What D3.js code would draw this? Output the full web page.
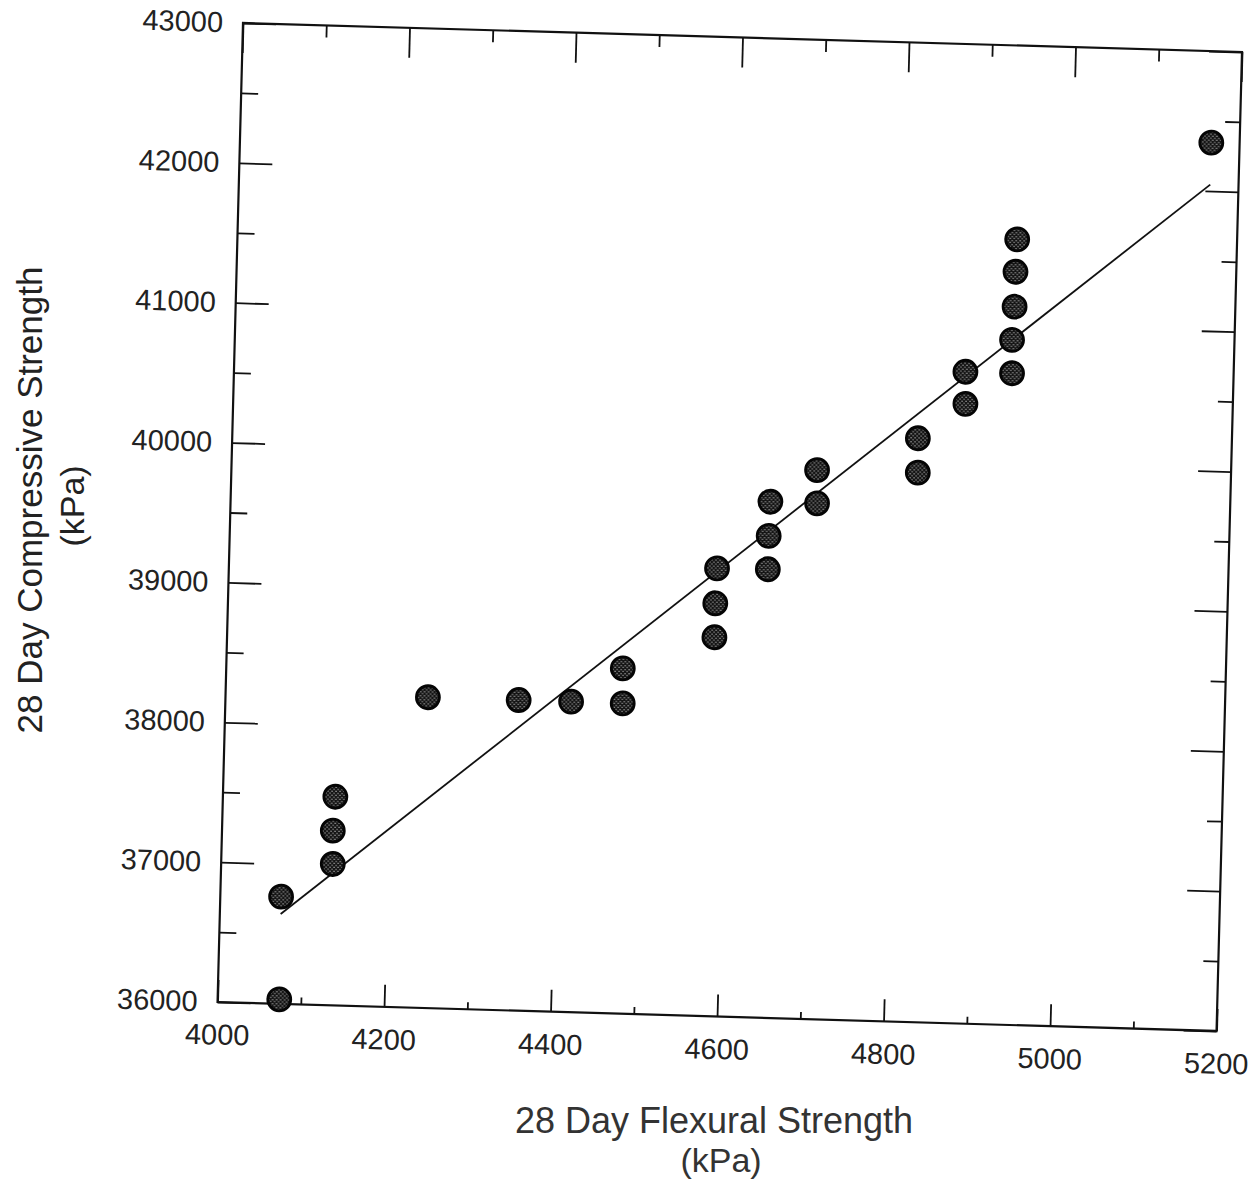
<!DOCTYPE html>
<html>
<head>
<meta charset="utf-8">
<script src="https://cdn.jsdelivr.net/npm/d3@7"></script>
<style>
  body { margin: 0; background: #fff; }
  svg { display: block; font-family: "Liberation Sans", Arial, sans-serif; }
  .tick text { fill: #222; }
</style>
</head>
<body>
<svg id="chart" width="1259" height="1181"></svg>
<script>
// 28 day flexural strength (kPa)
var flexural = [4073, 4074, 4135, 4133, 4134, 4243, 4352, 4415, 4476, 4477,
  4586, 4585, 4585, 4648, 4647, 4647, 4703, 4704, 4823, 4824,
  4878, 4879, 4936, 4935, 4935, 4933, 4934, 5166];
// 28 day compressive strength (kPa)
var compressive = [36766, 36032, 37491, 37248, 37010, 38221, 38220, 38219, 38468, 38218,
  39202, 38952, 38709, 39689, 39444, 39206, 39925, 39687, 40173, 39927,
  40658, 40428, 41615, 41383, 41133, 40895, 40657, 42346];
// fitted line end points
var fitX = [4073, 5166];
var fitY = [36642, 42046];

var xMajorTicks = [4000, 4200, 4400, 4600, 4800, 5000, 5200];
var xMinorTicks = [4100, 4300, 4500, 4700, 4900, 5100];
var yMajorTicks = [36000, 37000, 38000, 39000, 40000, 41000, 42000, 43000];
var yMinorTicks = [36500, 37500, 38500, 39500, 40500, 41500, 42500];

let svg = d3.select("#chart");
let width = 1000;
let height = 979;

let points = flexural.map((f, i) => ({ f: f, c: compressive[i] }));
let fit = fitX.map((f, i) => ({ f: f, c: fitY[i] }));

let xScale = d3.scaleLinear().domain([4000, 5200]).range([0, width]);
let yScale = d3.scaleLinear().domain([36000, 43000]).range([height, 0]);

// the scanned page is a little skewed, so the plot box is drawn through an affine map
let plot = svg.append("g")
  .attr("transform", "matrix(0.999, 0.029, -0.026, 1, 243, 23)");

let defs = svg.append("defs");
let pat = defs.append("pattern")
  .attr("id", "stipple")
  .attr("patternUnits", "userSpaceOnUse")
  .attr("width", 4)
  .attr("height", 4);
pat.append("rect").attr("width", 4).attr("height", 4).attr("fill", "#141414");
pat.append("rect").attr("x", 0.5).attr("y", 0.5).attr("width", 1.1).attr("height", 1.1).attr("fill", "#c8c8c8");
pat.append("rect").attr("x", 2.5).attr("y", 2.5).attr("width", 1.1).attr("height", 1.1).attr("fill", "#c8c8c8");

let styleAxis = g => {
  g.select(".domain").remove();
  g.selectAll("line").attr("stroke", "#111").attr("stroke-width", 1.8);
  g.attr("font-family", "").attr("font-size", 29);
  return g;
}

// left axis
plot.append("g")
  .call(d3.axisLeft(yScale).tickValues(yMajorTicks).tickSize(-33).tickPadding(20).tickFormat(d3.format("d")))
  .call(styleAxis);
plot.append("g")
  .call(d3.axisLeft(yScale).tickValues(yMinorTicks).tickSize(-17).tickFormat(""))
  .call(styleAxis);

// right axis
plot.append("g")
  .attr("transform", `translate(${width}, 0)`)
  .call(d3.axisRight(yScale).tickValues(yMajorTicks).tickSize(-33).tickFormat(""))
  .call(styleAxis);
plot.append("g")
  .attr("transform", `translate(${width}, 0)`)
  .call(d3.axisRight(yScale).tickValues(yMinorTicks).tickSize(-15).tickFormat(""))
  .call(styleAxis);

// bottom axis
plot.append("g")
  .attr("transform", `translate(0, ${height})`)
  .call(d3.axisBottom(xScale).tickValues(xMajorTicks).tickSize(-22).tickPadding(22).tickFormat(d3.format("d")))
  .call(styleAxis);
plot.append("g")
  .attr("transform", `translate(0, ${height})`)
  .call(d3.axisBottom(xScale).tickValues(xMinorTicks).tickSize(-7).tickFormat(""))
  .call(styleAxis);

// top axis
plot.append("g")
  .call(d3.axisTop(xScale).tickValues(xMajorTicks).tickSize(-30).tickFormat(""))
  .call(styleAxis);
plot.append("g")
  .call(d3.axisTop(xScale).tickValues(xMinorTicks).tickSize(-12).tickFormat(""))
  .call(styleAxis);

// frame
plot.append("rect")
  .attr("x", 0)
  .attr("y", 0)
  .attr("width", width)
  .attr("height", height)
  .attr("fill", "none")
  .attr("stroke", "#111")
  .attr("stroke-width", 2.2);

let line = d3.line()
  .x(d => xScale(d.f))
  .y(d => yScale(d.c));

plot.append("path")
  .datum(fit)
  .attr("fill", "none")
  .attr("stroke", "#111")
  .attr("stroke-width", 1.8)
  .attr("d", line);

plot.append("g")
  .selectAll("circle")
  .data(points)
  .join("circle")
  .attr("cx", d => xScale(d.f))
  .attr("cy", d => yScale(d.c))
  .attr("r", 11.5)
  .attr("fill", "url(#stipple)")
  .attr("stroke", "#050505")
  .attr("stroke-width", 2.8);

// axis titles
svg.append("text")
  .attr("transform", "translate(42, 500) rotate(-90)")
  .attr("text-anchor", "middle")
  .attr("font-size", 35)
  .attr("fill", "#222")
  .text("28 Day Compressive Strength");
svg.append("text")
  .attr("transform", "translate(84, 506) rotate(-90)")
  .attr("text-anchor", "middle")
  .attr("font-size", 34)
  .attr("fill", "#222")
  .text("(kPa)");

svg.append("text")
  .attr("x", 714)
  .attr("y", 1133)
  .attr("text-anchor", "middle")
  .attr("font-size", 36)
  .attr("fill", "#333")
  .text("28 Day Flexural Strength");
svg.append("text")
  .attr("x", 721)
  .attr("y", 1172)
  .attr("text-anchor", "middle")
  .attr("font-size", 34)
  .attr("fill", "#333")
  .text("(kPa)");
</script>
</body>
</html>
